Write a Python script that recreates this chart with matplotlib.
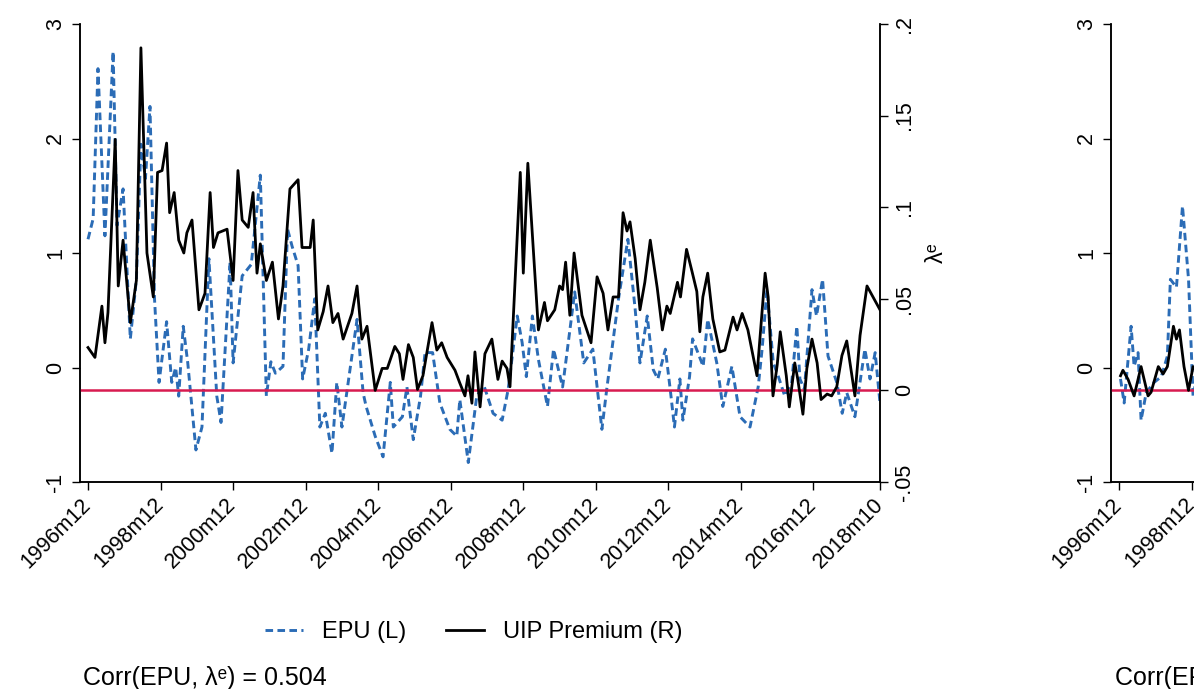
import matplotlib
matplotlib.use("Agg")
import matplotlib.pyplot as plt
from matplotlib.lines import Line2D

plt.rcParams['font.family'] = ['Liberation Sans', 'DejaVu Sans']

# months counted from 1996m12
epu_month = [0, 1.7, 3.3, 5.6, 8.3, 9.6, 11.6, 14, 16, 17.5, 19, 20.5, 22, 23.5,
             26, 27.7, 29, 30, 31.5, 33, 35.7, 37.7, 40, 42.6, 44, 47, 48, 51,
             54, 57, 59, 60.5, 62, 64.5, 66, 67.5, 69.5, 71, 73, 75, 76.7, 78.5,
             80.7, 82.3, 84, 89, 91, 92, 95, 97.6, 100, 101, 104, 105.5, 107.6,
             110, 111.5, 114, 116.4, 119.7, 122, 123, 125.8, 128.6, 131, 134,
             137, 139, 142, 143.6, 145, 147, 149, 152, 154, 157, 160, 161, 164,
             167, 170, 171.6, 175.5, 178.6, 181, 182.6, 185, 187, 188.5, 191,
             192.6, 194, 195.8, 196.8, 199, 200, 203.5, 205, 208, 210, 213,
             215.7, 219, 221.7, 223, 224.6, 226.7, 228.4, 230.5, 232.8, 234.5,
             235.5, 237, 239.5, 241, 243, 244.8, 247.7, 249.5, 251, 253.7, 257,
             258.7, 260.4, 262]
epu_value = [1.12, 1.30, 2.61, 1.15, 2.76, 1.24, 1.56, 0.25, 0.77, 1.95, 1.65,
             2.28, 0.60, -0.13, 0.40, -0.13, 0.0, -0.25, 0.36, 0.04, -0.72,
             -0.52, 0.95, -0.25, -0.48, 0.92, 0.04, 0.80, 0.90, 1.68, -0.25,
             0.05, -0.05, 0.01, 1.21, 1.06, 0.89, -0.10, 0.16, 0.60, -0.52,
             -0.40, -0.75, -0.13, -0.52, 0.42, -0.22, -0.34, -0.60, -0.78,
             -0.13, -0.52, -0.43, -0.17, -0.63, -0.25, 0.13, 0.13, -0.31,
             -0.54, -0.60, -0.28, -0.83, -0.25, -0.16, -0.40, -0.46, -0.19,
             0.45, 0.22, -0.08, 0.45, 0.07, -0.34, 0.16, -0.17, 0.45, 0.66,
             0.04, 0.16, -0.54, -0.19, 0.60, 1.12, 0.51, 0.04, 0.45, -0.02,
             -0.10, 0.16, -0.19, -0.52, -0.10, -0.46, -0.08, 0.25, 0.01, 0.42,
             0.04, -0.34, 0.01, -0.43, -0.52, -0.17, 0.16, 0.68, 0.04, -0.08,
             -0.25, -0.13, 0.36, -0.10, -0.19, 0.68, 0.45, 0.77, 0.10, -0.13,
             -0.40, -0.22, -0.43, 0.16, -0.10, 0.13, -0.31]

uip_month = [0, 2.3, 4.6, 5.6, 6.6, 9, 10, 11.6, 14, 16, 17.5, 19.5, 21.6, 23,
             24.5, 26, 27, 28.5, 30, 31.7, 32.7, 34.4, 36.7, 38.7, 40.4, 41.5,
             43, 46, 48, 49.6, 51, 53, 54.6, 55.9, 57, 59, 61, 63, 64.5, 66.8,
             69.5, 70.8, 73.5, 74.5, 76, 77.8, 79.4, 81, 82.7, 84.4, 87.3, 89,
             90.6, 92.3, 95, 97.3, 99, 101.5, 103, 104.2, 106, 107.6, 109,
             110.8, 113.8, 115.4, 117, 118.8, 121.4, 123, 124.7, 125.7, 127,
             128, 129.7, 131.3, 133.6, 135.6, 137, 138.6, 139.6, 143, 144,
             145.5, 149, 151, 152, 154.4, 156, 157, 158, 159.4, 160.8, 163.4,
             166.4, 168.4, 170.4, 172, 173.7, 175.5, 177, 178.3, 179.3, 181,
             182.6, 184.2, 186, 188.3, 190, 191.5, 192.6, 195, 196, 198, 199.8,
             201.4, 202.4, 203.4, 205, 206.7, 209, 210.7, 213.4, 214.7, 216.4,
             218.3, 221.3, 224, 225, 226.6, 228, 229, 231, 232, 233.8, 234.8,
             236.5, 237.8, 239.5, 241.2, 242.5, 244.5, 246, 247.7, 249.4, 251,
             252.7, 253.7, 255.4, 257.7, 259.7, 262]
uip_value = [0.0234, 0.018, 0.046, 0.026, 0.0425, 0.137, 0.057, 0.082, 0.037,
             0.060, 0.187, 0.075, 0.051, 0.119, 0.120, 0.135, 0.097, 0.108,
             0.082, 0.075, 0.086, 0.093, 0.044, 0.053, 0.108, 0.078, 0.086,
             0.088, 0.060, 0.120, 0.093, 0.089, 0.108, 0.064, 0.080, 0.060,
             0.070, 0.039, 0.057, 0.110, 0.115, 0.078, 0.078, 0.093, 0.033,
             0.043, 0.057, 0.037, 0.042, 0.028, 0.042, 0.057, 0.028, 0.035,
             0.0, 0.012, 0.012, 0.024, 0.020, 0.006, 0.025, 0.018, 0.0005,
             0.008, 0.037, 0.022, 0.026, 0.018, 0.011, 0.004, -0.003, 0.008,
             -0.007, 0.021, -0.009, 0.020, 0.028, 0.006, 0.016, 0.012, 0.002,
             0.119, 0.064, 0.124, 0.033, 0.048, 0.038, 0.044, 0.057, 0.055,
             0.070, 0.041, 0.075, 0.041, 0.026, 0.062, 0.053, 0.033, 0.051,
             0.051, 0.097, 0.087, 0.092, 0.072, 0.044, 0.059, 0.082, 0.056,
             0.033, 0.046, 0.042, 0.059, 0.051, 0.077, 0.065, 0.054, 0.032,
             0.051, 0.064, 0.039, 0.021, 0.022, 0.040, 0.033, 0.042, 0.033,
             0.008, 0.064, 0.051, -0.003, 0.014, 0.032, 0.008, -0.009, 0.015,
             0.006, -0.013, 0.012, 0.028, 0.015, -0.005, -0.002, -0.003, 0.002,
             0.019, 0.027, 0.008, -0.003, 0.030, 0.057, 0.051, 0.044]

# second panel, only its first two years fit in the picture
epu2_month = [0.5, 1.7, 4, 5, 6.3, 7.3, 9, 11.6, 14, 16, 17, 19, 21, 23, 24.5, 26]
epu2_value = [-0.10, -0.31, 0.36, 0.01, 0.13, -0.46, -0.22, -0.13, -0.08, 0.10,
              0.77, 0.70, 1.41, 0.77, -0.25, -0.05]
uip2_month = [0.5, 1.3, 3, 5, 7.3, 9.6, 10.6, 13, 14.6, 16, 18, 19, 20, 21.5, 23,
              24.5, 26]
uip2_value = [0.008, 0.011, 0.006, -0.003, 0.013, -0.003, -0.001, 0.013, 0.009,
              0.013, 0.035, 0.028, 0.033, 0.013, 0.0, 0.013, 0.010]

tick_labels = ['1996m12', '1998m12', '2000m12', '2002m12', '2004m12',
               '2006m12', '2008m12', '2010m12', '2012m12', '2014m12',
               '2016m12', '2018m10']
left_ticks = [-1, 0, 1, 2, 3]
right_ticks = [-0.05, 0, 0.05, 0.1, 0.15, 0.2]
right_tick_labels = ['-.05', '0', '.05', '.1', '.15', '.2']
legend_labels = ['EPU (L)', 'UIP Premium (R)']

BLUE = '#2b6cb6'
RED = '#d81b50'
DASH = (0, (2.6, 1.5))
TICK_FS = 15.5
FS = 17


def month_index(label):
    year, month = label.split('m')
    return (int(year) - 1996) * 12 + int(month) - 12


def draw_panel(fig, left, e_t, e_v, u_t, u_v):
    ax = fig.add_axes([left, 207 / 689, 800 / 1194, 458 / 689])
    ax2 = ax.twinx()
    ax.plot(e_t, e_v, color=BLUE, lw=2.1, ls=DASH)
    ax2.axhline(0, color=RED, lw=1.8, zorder=1)
    ax2.plot(u_t, u_v, color='black', lw=2.0, zorder=2)

    ax.set_xlim(-2.65, 262)
    ax.set_ylim(-1, 3)
    ax2.set_ylim(-0.05, 0.2)

    ax.set_yticks(left_ticks)
    ax.set_yticklabels([str(v) for v in left_ticks], rotation=90, va='center')
    ax2.set_yticks(right_ticks)
    ax2.set_yticklabels(right_tick_labels, rotation=90, va='center')

    ax.set_xticks([month_index(s) for s in tick_labels])
    ax.set_xticklabels(tick_labels, rotation=45, ha='right', va='center',
                       rotation_mode='anchor')

    for a in (ax, ax2):
        a.spines['top'].set_visible(False)
        for s in a.spines.values():
            s.set_linewidth(1.1)
        a.tick_params(direction='out', length=6, width=1.0,
                      labelsize=TICK_FS, pad=4)
    ax.tick_params(axis='x', pad=8)
    ax2.set_ylabel('λᵉ', rotation=90, fontsize=FS, labelpad=8)
    return ax, ax2


fig = plt.figure(figsize=(11.94, 6.89), dpi=100)
fig.patch.set_facecolor('white')

draw_panel(fig, 80 / 1194, epu_month, epu_value, uip_month, uip_value)
draw_panel(fig, 1111 / 1194, epu2_month, epu2_value, uip2_month, uip2_value)

handles = [Line2D([], [], color=BLUE, lw=2.1, ls=DASH),
           Line2D([], [], color='black', lw=2.0)]
fig.legend(handles, legend_labels, loc='center', ncol=2, frameon=False,
           bbox_to_anchor=(474 / 1194, 1 - 632 / 689), fontsize=FS,
           handlelength=1.6, handletextpad=0.8, columnspacing=1.7)

fig.text(83 / 1194, 1 - 678 / 689, 'Corr(EPU, λᵉ) = 0.504', fontsize=18,
         va='center', ha='left')
fig.text(1115 / 1194, 1 - 678 / 689, 'Corr(EPU, λᵉ) = 0.519', fontsize=18,
         va='center', ha='left')

fig.savefig('out.png', dpi=100)
